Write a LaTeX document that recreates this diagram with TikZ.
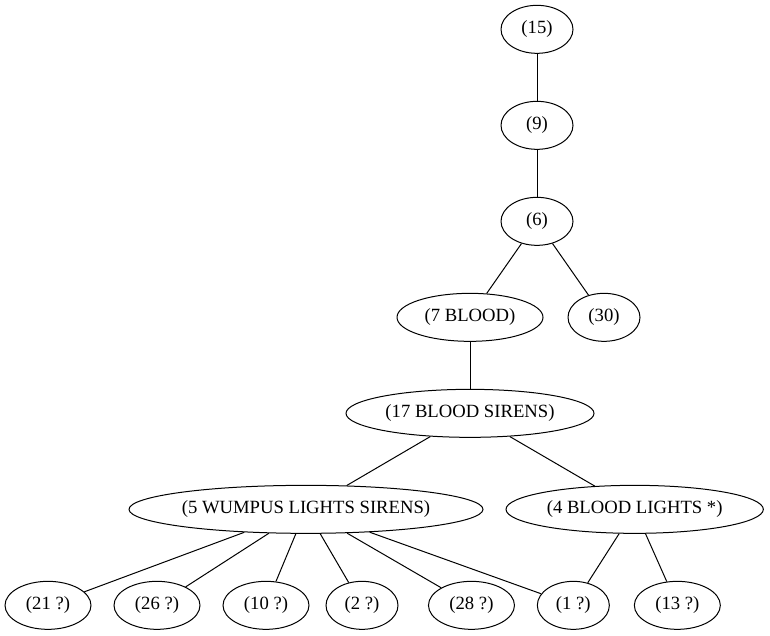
\documentclass[tikz,border=0pt]{standalone}
\usepackage{fontspec}
\setmainfont{Liberation Serif}
\usetikzlibrary{shapes.geometric}
\begin{document}
\begin{tikzpicture}[x=1pt,y=1pt,line width=0.75pt,state/.style={shape=ellipse,draw=black,inner sep=0pt,minimum height=36pt,minimum width=54pt,font=\rmfamily\fontsize{14}{16}\selectfont}]
\def\dy{-72};
\def\yt{-22};
\def\xa{402.75};
\def\xb{352.5};

\useasboundingbox (0,0) rectangle (577.5,-476.25);

\node[state] (n15) at (\xa,\yt) {(15)};
\node[state] (n9) at (\xa,\yt+\dy) {(9)};
\draw (n15) -- (n9);
\node[state] (n6) at (\xa,\yt+2*\dy) {(6)};
\draw (n9) -- (n6);

\node[state,minimum width=109.5pt] (n7) at (\xb,\yt+3*\dy) {(7 BLOOD)};
\draw (n6) -- (n7);
\node[state] (n30) at (453,\yt+3*\dy) {(30)};
\draw (n6) -- (n30);

\node[state,minimum width=186pt] (n17) at (\xb,\yt+4*\dy) {(17 BLOOD SIRENS)};
\draw (n7) -- (n17);

\node[state,minimum width=265.5pt] (n5) at (229.5,\yt+5*\dy) {(5 WUMPUS LIGHTS SIRENS)};
\draw (n17) -- (n5);
\node[state,minimum width=193pt] (n4) at (476,\yt+5*\dy) {(4 BLOOD LIGHTS *)};
\draw (n17) -- (n4);

\node[state,minimum width=64.5pt] (n21) at (36,\yt+6*\dy) {(21 ?)};
\draw (n5) -- (n21);
\node[state,minimum width=64.5pt] (n26) at (117.75,\yt+6*\dy) {(26 ?)};
\draw (n5) -- (n26);
\node[state,minimum width=64.5pt] (n10) at (199.5,\yt+6*\dy) {(10 ?)};
\draw (n5) -- (n10);
\node[state] (n2) at (271.5,\yt+6*\dy) {(2 ?)};
\draw (n5) -- (n2);
\node[state,minimum width=64.5pt] (n28) at (353.6,\yt+6*\dy) {(28 ?)};
\draw (n5) -- (n28);
\node[state] (n1) at (430,\yt+6*\dy) {(1 ?)};
\draw (n5) -- (n1);
\draw (n4) -- (n1);
\node[state,minimum width=64.5pt] (n13) at (508,\yt+6*\dy) {(13 ?)};
\draw (n4) -- (n13);
\end{tikzpicture}
\end{document}
